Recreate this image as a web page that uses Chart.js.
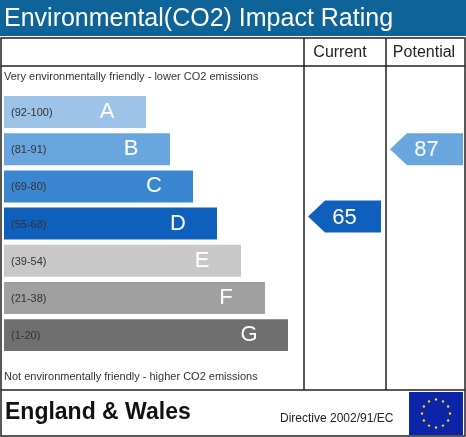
<!DOCTYPE html>
<html><head><meta charset="utf-8">
<script src="https://cdn.jsdelivr.net/npm/chart.js"></script>
<style>html,body{margin:0;padding:0;background:#fff}#w{width:466px;height:437px}</style>
</head><body><div id="w"><canvas id="c" width="466" height="437"></canvas></div>
<script>
const bands = ['A','B','C','D','E','F','G'];
const ranges = ['(92-100)','(81-91)','(69-80)','(55-68)','(39-54)','(21-38)','(1-20)'];
const barLengths = [142,166,189,213,237,261,284];
const colors = ['#9dc3e8','#6aa6de','#3b86d0','#0f5fbd','#c8c8c8','#a0a0a0','#6f6f6f'];
const currentRating = 65, currentBand = 'D';
const potentialRating = 87, potentialBand = 'B';
const F = 'Arial, "Liberation Sans", sans-serif';

const frame = {
  id:'frame',
  beforeDatasetsDraw(ch){
    const c=ch.ctx; c.save();
    c.fillStyle='#0e6399'; c.fillRect(0,0,466,36);
    c.fillStyle='#fff'; c.font='25px '+F; c.textBaseline='middle'; c.textAlign='left';
    c.fillText('Environmental(CO2) Impact Rating',4,19);
    c.strokeStyle='#222'; c.lineWidth=1.5;
    c.strokeRect(1,38,464,398);
    c.beginPath();
    c.moveTo(1,66);c.lineTo(465,66);
    c.moveTo(1,390);c.lineTo(465,390);
    c.moveTo(304,38);c.lineTo(304,390);
    c.moveTo(386,38);c.lineTo(386,390);
    c.stroke();
    c.fillStyle='#222'; c.font='16px '+F; c.textAlign='center';
    c.fillText('Current',340,53); c.fillText('Potential',424,53);
    c.font='11px '+F; c.textAlign='left'; c.fillStyle='#333';
    c.fillText('Very environmentally friendly - lower CO2 emissions',4,77);
    c.fillText('Not environmentally friendly - higher CO2 emissions',4,377);
    c.fillStyle='#111'; c.font='bold 23px '+F;
    c.fillText('England & Wales',5,413);
    c.font='12px '+F; c.fillStyle='#222';
    c.fillText('Directive 2002/91/EC',280,419);
    c.fillStyle='#0b24a8'; c.fillRect(409,392,54,43);
    c.fillStyle='#ffdd00';
    for(let i=0;i<12;i++){const a=i*Math.PI/6;c.beginPath();c.arc(436+14*Math.cos(a),413.5+14*Math.sin(a),1.2,0,7);c.fill();}
    c.restore();
  },
  afterDatasetsDraw(ch){
    const c=ch.ctx, ys=ch.scales.y, meta=ch.getDatasetMeta(0);
    c.save(); c.textBaseline='middle';
    meta.data.forEach((b,i)=>{
      c.fillStyle='#333'; c.font='11px '+F; c.textAlign='left';
      c.fillText(ranges[i],11,b.y+1);
      c.fillStyle='#fff'; c.font='22px '+F; c.textAlign='center';
      c.fillText(bands[i],b.x-39,b.y);
    });
    function arrow(x0,x1,y,val,col){
      const h=16;
      c.fillStyle=col; c.beginPath();
      c.moveTo(x0,y);c.lineTo(x0+17,y-h);c.lineTo(x1,y-h);c.lineTo(x1,y+h);c.lineTo(x0+17,y+h);c.closePath();c.fill();
      c.fillStyle='#fff'; c.font='22px '+F; c.textAlign='center';
      c.fillText(String(val),(x0+x1)/2,y+1);
    }
    arrow(308,381,ys.getPixelForValue(bands.indexOf(currentBand))-7,currentRating,colors[bands.indexOf(currentBand)]);
    arrow(390,463,ys.getPixelForValue(bands.indexOf(potentialBand)),potentialRating,colors[bands.indexOf(potentialBand)]);
    c.restore();
  }
};

new Chart(document.getElementById('c'),{
  type:'bar',
  data:{labels:bands,datasets:[{data:barLengths,backgroundColor:colors,barPercentage:0.86,categoryPercentage:1}]},
  options:{
    indexAxis:'y',responsive:false,animation:false,
    layout:{padding:{left:4,right:162,top:93.5,bottom:83.3}},
    plugins:{legend:{display:false},tooltip:{enabled:false}},
    scales:{
      x:{min:0,max:300,display:false},
      y:{display:false}
    }
  },
  plugins:[frame]
});
</script></body></html>
